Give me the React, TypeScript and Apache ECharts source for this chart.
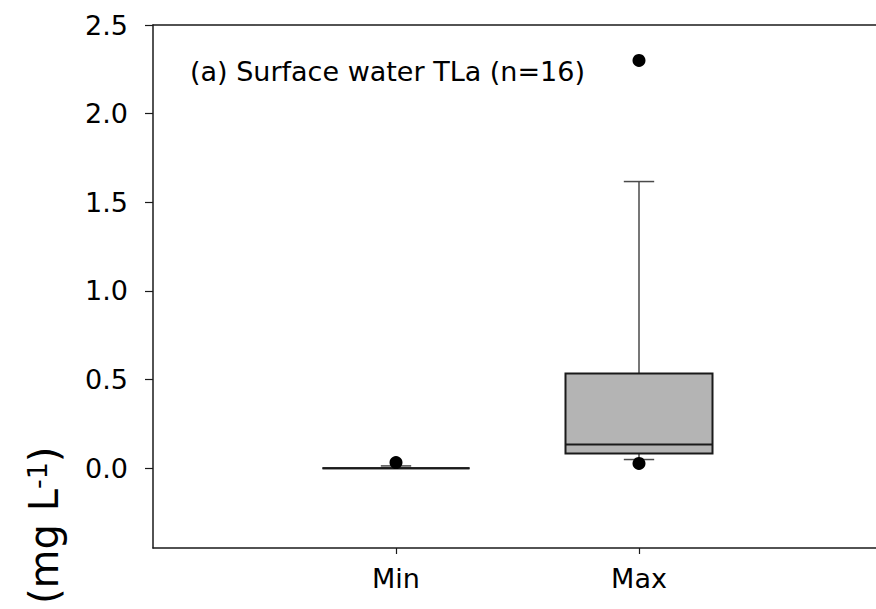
import React, { useEffect, useRef } from "react";
import * as echarts from "echarts";

const categories = ["", "Min", "Max", ""];
const boxCategoryIndex = [1, 2];
const whiskerLow = [0, 0.049];
const q1 = [0, 0.083];
const median = [0, 0.134];
const q3 = [0, 0.534];
const whiskerHigh = [0.013, 1.617];
const outlierCategoryIndex = [1, 2, 2];
const outlierValues = [0.032, 2.3, 0.027];
const yTickValues = [0, 0.5, 1.0, 1.5, 2.0, 2.5];
const titleText = "(a) Surface water TLa (n=16)";

const FONT = "DejaVu Sans";
const AXIS = "#1a1a1a";

export default function App() {
  const ref = useRef<HTMLDivElement>(null);
  useEffect(() => {
    if (!ref.current) return;
    const chart = echarts.init(ref.current, null, { renderer: "svg" });
    const boxData = boxCategoryIndex.map((c, i) => [
      c,
      whiskerLow[i],
      q1[i],
      median[i],
      q3[i],
      whiskerHigh[i],
    ]);
    const outlierData = outlierCategoryIndex.map((c, i) => [c, outlierValues[i]]);

    chart.setOption({
      animation: false,
      backgroundColor: "#ffffff",
      grid: {
        left: 153,
        top: 25,
        right: -6,
        bottom: 61,
        containLabel: false,
        outerBoundsMode: "none",
        show: false,
      },
      xAxis: [
        {
          type: "category",
          data: categories,
          boundaryGap: false,
          position: "bottom",
          axisLine: { show: true, onZero: false, lineStyle: { color: AXIS, width: 1.5 } },
          axisTick: {
            show: true,
            inside: false,
            length: 6,
            interval: (i: number) => i === 1 || i === 2,
            lineStyle: { color: AXIS, width: 1.2 },
          },
          axisLabel: {
            interval: 0,
            margin: 17,
            color: "#000",
            fontFamily: FONT,
            fontSize: 27,
          },
          splitLine: { show: false },
        },
        {
          type: "category",
          data: categories,
          boundaryGap: false,
          position: "top",
          axisLine: { show: true, onZero: false, lineStyle: { color: AXIS, width: 1.5 } },
          axisTick: { show: false },
          axisLabel: { show: false },
          splitLine: { show: false },
        },
      ],
      yAxis: {
        type: "value",
        min: -0.45,
        max: 2.5,
        axisLine: { show: true, onZero: false, lineStyle: { color: AXIS, width: 1.5 } },
        axisTick: {
          show: true,
          inside: false,
          length: 8,
          customValues: yTickValues,
          lineStyle: { color: AXIS, width: 1.2 },
        },
        axisLabel: {
          customValues: yTickValues,
          margin: 25,
          color: "#000",
          fontFamily: FONT,
          fontSize: 27,
          formatter: (v: number) => v.toFixed(1),
        },
        splitLine: { show: false },
      },
      series: [
        {
          type: "custom",
          data: boxData,
          xAxisIndex: 0,
          encode: { x: 0, y: [1, 2, 3, 4, 5] },
          renderItem: (params: any, api: any) => {
            const c = api.value(0);
            const lo = api.coord([c, api.value(1)]);
            const b1 = api.coord([c, api.value(2)]);
            const md = api.coord([c, api.value(3)]);
            const b3 = api.coord([c, api.value(4)]);
            const hi = api.coord([c, api.value(5)]);
            const band = api.size([1, 0])[0];
            const bw = band * 0.605;
            const cw = band * 0.125;
            const x = lo[0];
            const grey = "#4a4a4a";
            const children: any[] = [
              {
                type: "line",
                shape: { x1: x, y1: b3[1], x2: x, y2: hi[1] },
                style: { stroke: grey, lineWidth: 1.5 },
              },
              {
                type: "line",
                shape: { x1: x - cw / 2, y1: hi[1], x2: x + cw / 2, y2: hi[1] },
                style: { stroke: grey, lineWidth: 1.5 },
              },
              {
                type: "line",
                shape: { x1: x, y1: b1[1], x2: x, y2: lo[1] },
                style: { stroke: grey, lineWidth: 1.5 },
              },
              {
                type: "line",
                shape: { x1: x - cw / 2, y1: lo[1], x2: x + cw / 2, y2: lo[1] },
                style: { stroke: grey, lineWidth: 1.5 },
              },
              {
                type: "rect",
                shape: { x: x - bw / 2, y: b3[1], width: bw, height: Math.max(0, b1[1] - b3[1]) },
                style: { fill: "#b4b4b4", stroke: "#1a1a1a", lineWidth: 2 },
              },
              {
                type: "line",
                shape: { x1: x - bw / 2, y1: md[1], x2: x + bw / 2, y2: md[1] },
                style: { stroke: "#1a1a1a", lineWidth: 2 },
              },
            ];
            return { type: "group", children };
          },
          z: 2,
        },
        {
          type: "scatter",
          xAxisIndex: 0,
          data: outlierData,
          symbol: "circle",
          symbolSize: 13,
          itemStyle: { color: "#000", opacity: 1 },
          z: 3,
        },
      ],
      graphic: [
        {
          type: "text",
          left: 190,
          top: 58,
          style: {
            text: titleText,
            fill: "#000",
            font: `27px "${FONT}"`,
          },
        },
        {
          type: "text",
          x: 44,
          y: 604,
          rotation: Math.PI / 2,
          style: {
            text: "{a|(mg L}{b|-1}{a|)}",
            textAlign: "left",
            textVerticalAlign: "middle",
            rich: {
              a: { fontFamily: FONT, fontSize: 40, fill: "#000", color: "#000" },
              b: { fontFamily: FONT, fontSize: 27, fill: "#000", color: "#000", verticalAlign: "top", padding: [0, 0, 12, 0] },
            },
          },
        },
      ],
    });
    return () => chart.dispose();
  }, []);
  return (
    <div
      ref={ref}
      style={{ position: "fixed", left: 0, top: 0, width: 876, height: 609 }}
    />
  );
}
